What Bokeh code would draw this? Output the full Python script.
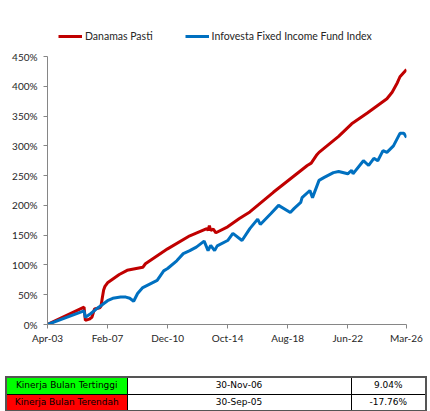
from bokeh.plotting import figure
from bokeh.models import (Legend, LegendItem, FixedTicker, PrintfTickFormatter,
                          Range1d, Div)
from bokeh.layouts import column
from bokeh.embed import file_html
from bokeh.resources import INLINE

# ---------------- data ----------------
red_dates = ["2003-04", "2005-08", "2005-09", "2005-12", "2006-02", "2006-04", "2006-08",
             "2006-09", "2006-10", "2006-11", "2006-12", "2007-02", "2007-11", "2008-05",
             "2009-05", "2009-07", "2010-12", "2012-05", "2013-06", "2013-07", "2013-08",
             "2013-09", "2013-11", "2014-01", "2014-10", "2015-07", "2016-03", "2017-09",
             "2019-11", "2020-02", "2020-06", "2020-08", "2021-11", "2022-09", "2023-09",
             "2024-12", "2025-04", "2025-08", "2025-10", "2026-03"]
red_values = [0, 29, 7, 9, 12, 26, 28, 31, 45, 58, 64, 70, 84, 91, 96, 102, 127, 149, 161,
              158, 166, 158, 160, 154, 164, 178, 189, 222, 267, 271, 284, 289, 316, 337,
              355, 379, 390, 406, 416, 428]

blue_dates = ["2003-04", "2005-08", "2005-09", "2006-01", "2006-06", "2007-02", "2007-06",
              "2007-12", "2008-04", "2008-07", "2008-10", "2009-01", "2009-05", "2010-04",
              "2010-09", "2010-12", "2011-07", "2011-12", "2012-05", "2012-10", "2013-04",
              "2013-07", "2013-09", "2013-12", "2014-02", "2014-10", "2015-02", "2015-09",
              "2016-03", "2016-09", "2016-11", "2017-07", "2018-01", "2018-10", "2019-01",
              "2019-06", "2019-07", "2020-01", "2020-03", "2020-08", "2020-12", "2021-07",
              "2021-11", "2022-06", "2022-09", "2022-10", "2023-06", "2023-10", "2024-02",
              "2024-05", "2024-09", "2024-12", "2025-05", "2025-10", "2026-01", "2026-03"]
blue_values = [0, 23, 12, 18, 27, 40, 44, 46, 46, 44, 39, 52, 62, 74, 90, 94, 107, 119, 124,
               130, 140, 124, 133, 124, 132, 141, 153, 141, 161, 177, 168, 186, 200, 188,
               195, 205, 213, 225, 213, 242, 247, 255, 257, 253, 259, 253, 275, 267, 279,
               275, 292, 289, 300, 321, 321, 314]

series_names = ["Danamas Pasti", "Infovesta Fixed Income Fund Index"]
x_tick_labels = ["Apr-03", "Feb-07", "Dec-10", "Oct-14", "Aug-18", "Jun-22", "Mar-26"]
x_tick_dates = ["2003-04", "2007-02", "2010-12", "2014-10", "2018-08", "2022-06", "2026-03"]
y_ticks = [0, 50, 100, 150, 200, 250, 300, 350, 400, 450]

table_labels = ["Kinerja Bulan Tertinggi", "Kinerja Bulan Terendah"]
table_dates = ["30-Nov-06", "30-Sep-05"]
table_values = ["9.04%", "-17.76%"]
table_colors = ["#00FF00", "#FF0000"]


def month_index(s):
    y, m = s.split("-")
    return (int(y) - 2003) * 12 + (int(m) - 4)


red_x = [month_index(d) for d in red_dates]
blue_x = [month_index(d) for d in blue_dates]
tick_x = [month_index(d) for d in x_tick_dates]

FONT = "Lato"
TXT = "#262626"
AX = "#868686"

# frame spans 0..324 px; 450% sits 56 px below the top, so headroom holds the legend
y_top = 450 * 324 / 268

p = figure(width=430, height=376, output_backend="svg", toolbar_location=None,
           x_range=Range1d(0, month_index("2026-03")), y_range=Range1d(0, y_top),
           min_border_left=47, min_border_right=24, min_border_top=0, min_border_bottom=52)
p.outline_line_color = None
p.xgrid.visible = False
p.ygrid.visible = False

r1 = p.line(red_x, red_values, line_color="#C00000", line_width=3)
r2 = p.line(blue_x, blue_values, line_color="#0070C0", line_width=3)

p.xaxis.ticker = FixedTicker(ticks=tick_x)
p.xaxis.major_label_overrides = {t: l for t, l in zip(tick_x, x_tick_labels)}
p.yaxis.ticker = FixedTicker(ticks=y_ticks)
p.yaxis.formatter = PrintfTickFormatter(format="%d%%")
p.yaxis.bounds = (0, 450)

for ax in (p.xaxis[0], p.yaxis[0]):
    ax.axis_line_color = AX
    ax.major_tick_line_color = AX
    ax.major_tick_in = 0
    ax.major_tick_out = 4
    ax.minor_tick_line_color = None
    ax.major_label_text_font = FONT
    ax.major_label_text_font_size = "10px"
    ax.major_label_text_color = TXT
p.yaxis.major_label_standoff = 6
p.xaxis.major_label_standoff = 3

legend = Legend(items=[LegendItem(label=series_names[0], renderers=[r1]),
                       LegendItem(label=series_names[1], renderers=[r2])],
                orientation="horizontal", location=(11, 282),
                border_line_color=None, background_fill_alpha=0,
                glyph_width=24, glyph_height=12, label_standoff=3, spacing=32,
                padding=2, margin=0,
                label_text_font=FONT, label_text_font_size="10.5px", label_text_color=TXT)
p.add_layout(legend)

rows = ""
for lab, d, v, c in zip(table_labels, table_dates, table_values, table_colors):
    rows += ("<tr style='height:17px'>"
             f"<td style='background:{c};width:121px;text-align:center;border:1px solid #000;padding:0'>{lab}</td>"
             f"<td style='text-align:center;border:1px solid #000;width:224px;padding:0'>{d}</td>"
             f"<td style='text-align:center;border:1px solid #000;padding:0'>{v}</td></tr>")
html = ("<table style=\"border-collapse:collapse;width:422px;font-family:'DejaVu Sans';"
        "font-size:9px;color:#000;border:2px solid #555;margin:0\">" + rows + "</table>")
div = Div(text=html, width=422, height=35, margin=(0, 3, 0, 5))

layout = column(p, div, spacing=0)
open("out.html", "w").write(file_html(layout, INLINE))
